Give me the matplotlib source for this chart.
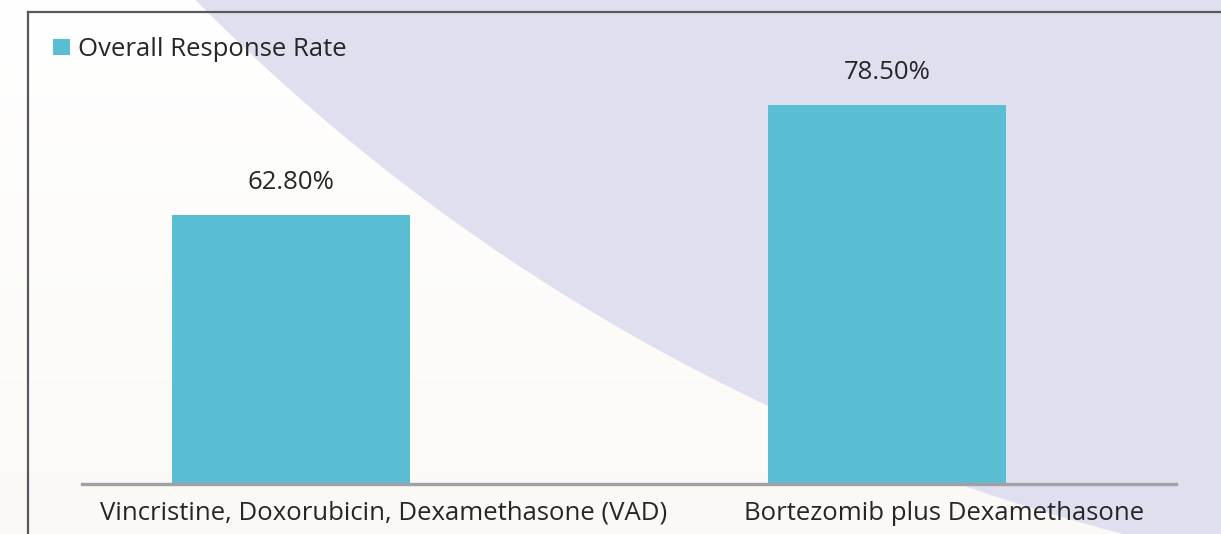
import matplotlib.pyplot as plt
import numpy as np
from matplotlib.patches import Polygon

plt.rcParams['font.family'] = ['Open Sans', 'DejaVu Sans']

categories = ["Vincristine, Doxorubicin, Dexamethasone (VAD)", "Bortezomib plus Dexamethasone"]
response_rate = [62.8, 78.5]
series_name = "Overall Response Rate"

W, H = 1221, 534
fig = plt.figure(figsize=(W / 100, H / 100), dpi=100)

# background: soft gradient plus lavender arc, in pixel coords
bg = fig.add_axes([0, 0, 1, 1])
bg.set_xlim(0, W)
bg.set_ylim(H, 0)
bg.axis('off')
grad = np.linspace(0, 1, 200).reshape(-1, 1)
top_col = np.array([1.0, 1.0, 1.0])
bot_col = np.array([0.985, 0.978, 0.962])
img = top_col + grad[..., None] * (bot_col - top_col)
bg.imshow(img, extent=[0, W, H, 0], aspect='auto', zorder=0)

# smooth the arc edge with a least-squares circle fit
ex = np.array([200, 277, 357, 447, 533, 633, 767, 970, 1114], float)
ey = np.array([0, 80, 150, 220, 277, 330, 403, 487, 534], float)
A = np.c_[2 * ex, 2 * ey, np.ones_like(ex)]
cx, cy, c0 = np.linalg.lstsq(A, ex ** 2 + ey ** 2, rcond=None)[0]
r = np.sqrt(c0 + cx ** 2 + cy ** 2)
a0 = np.arctan2(-10 - cy, 190 - cx)
a1 = np.arctan2(544 - cy, 1125 - cx)
t = np.linspace(a0, a1, 300)
arc = list(zip(cx + r * np.cos(t), cy + r * np.sin(t)))
bg.add_patch(Polygon(arc + [(W + 5, H + 5), (W + 5, -5)], closed=True,
                     color='#e0dff0', lw=0, zorder=1))
bg.plot([28, W], [12, 12], color='#58585e', lw=1.6, zorder=2)
bg.plot([28, 28], [12, H], color='#58585e', lw=1.6, zorder=2)

ax = fig.add_axes([82 / W, 1 - 484 / H, (1176 - 82) / W, (484 - 12) / H])
ax.patch.set_alpha(0)
x = np.arange(len(categories))
bars = ax.bar(x, response_rate, width=0.4, color='#5abed2', label=series_name, zorder=2)
ax.set_xlim(-0.351, 1.485)
ax.set_ylim(24.4, 91.8)

for b, v in zip(bars, response_rate):
    ax.annotate(f"{v:.2f}%", (b.get_x() + b.get_width() / 2, v), xytext=(0, 19),
                textcoords='offset points', ha='center', va='baseline',
                fontsize=18.5, color='#262626')

for s in ['top', 'left', 'right']:
    ax.spines[s].set_visible(False)
ax.spines['bottom'].set_color('#a0a0a5')
ax.spines['bottom'].set_linewidth(2.4)
ax.set_yticks([])
ax.set_xticks([])

label_shift = [92, 57]  # px offset of category labels from bar centers
for i, (c, dx) in enumerate(zip(categories, label_shift)):
    ax.annotate(c, (x[i], 0), xycoords=ax.get_xaxis_transform(),
                xytext=(dx * 0.72, -29 * 0.72), textcoords='offset points',
                ha='center', va='center', fontsize=18.5, color='#262626')

ax.legend(loc='upper left', bbox_to_anchor=(53 / W, 1 - 37 / H), bbox_transform=fig.transFigure,
          frameon=False, fontsize=18.5, handlelength=0.66, handleheight=0.62,
          handletextpad=0.3, borderpad=0, borderaxespad=0, labelcolor='#262626')

fig.savefig('out.png', dpi=100)
